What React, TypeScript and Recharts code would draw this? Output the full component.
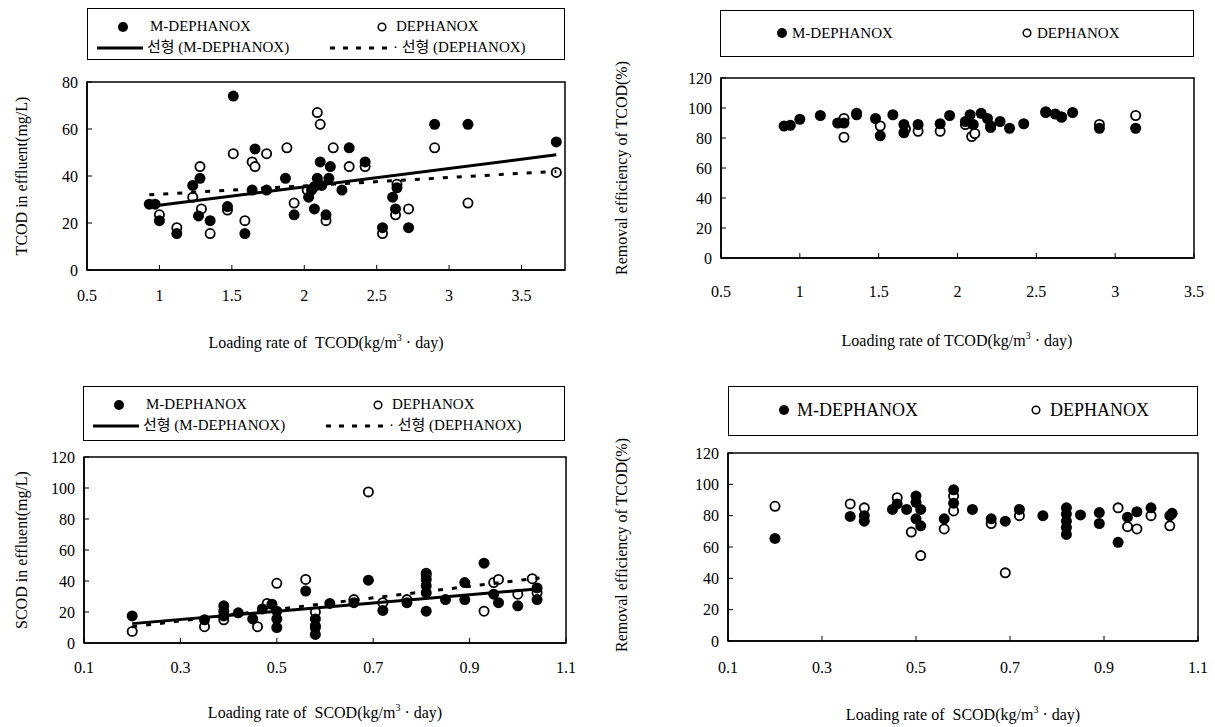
import React from 'react'
import { ScatterChart, Scatter, XAxis, YAxis, ReferenceArea } from 'recharts'

const FONT = '"Liberation Serif", "Noto Sans CJK KR", serif'

type Pt = [number, number]

// top-left: TCOD in effluent vs TCOD loading
const tcodEffM: Pt[] = [
  [0.93, 28], [0.97, 28], [1.0, 21], [1.12, 15.5], [1.23, 36], [1.28, 39], [1.27, 23], [1.35, 21],
  [1.47, 27], [1.51, 74], [1.59, 15.5], [1.66, 51.5], [1.64, 34], [1.74, 34], [1.87, 39], [1.93, 23.5],
  [2.03, 31], [2.07, 26], [2.07, 35.5], [2.09, 39], [2.11, 46], [2.18, 44], [2.17, 39], [2.15, 23.5],
  [2.05, 34], [2.12, 36], [2.26, 34], [2.31, 52], [2.42, 46], [2.54, 18], [2.61, 31], [2.64, 35],
  [2.63, 26], [2.72, 18], [2.9, 62], [3.13, 62], [3.74, 54.5],
]
const tcodEffD: Pt[] = [
  [1.0, 23.5], [1.12, 18], [1.23, 31], [1.28, 44], [1.29, 26], [1.35, 15.5], [1.47, 25.5], [1.51, 49.5],
  [1.59, 21], [1.64, 46], [1.66, 44], [1.74, 49.5], [1.88, 52], [1.93, 28.5], [2.02, 34], [2.09, 67],
  [2.11, 62], [2.15, 21], [2.2, 52], [2.31, 44], [2.42, 44], [2.54, 15.5], [2.63, 23.5], [2.64, 36.5],
  [2.72, 26], [2.9, 52], [3.13, 28.5], [3.74, 41.5],
]
const tcodEffTrendM: Pt[] = [[0.93, 27], [3.74, 49]]
const tcodEffTrendD: Pt[] = [[0.93, 32], [3.74, 42]]

// top-right: TCOD removal vs TCOD loading
const tcodRemM: Pt[] = [
  [0.9, 88], [0.94, 88.5], [1.0, 92.5], [1.13, 95], [1.24, 90], [1.28, 90], [1.36, 95.5], [1.48, 93],
  [1.51, 81.5], [1.59, 95.5], [1.66, 89], [1.66, 83.5], [1.75, 89], [1.89, 89.5], [1.95, 95], [2.05, 91],
  [2.08, 95.5], [2.1, 89], [2.15, 96.5], [2.19, 93], [2.21, 88], [2.27, 91], [2.33, 86.5], [2.42, 89.5],
  [2.56, 97.5], [2.62, 96], [2.66, 94], [2.73, 97], [2.9, 86.5], [3.13, 86.5],
]
const tcodRemD: Pt[] = [
  [1.28, 80.5], [1.28, 93], [1.36, 96.5], [1.51, 88], [1.67, 86], [1.75, 84.5], [1.89, 84.5], [2.09, 81],
  [2.11, 83], [2.21, 87], [2.05, 89], [2.56, 97], [2.66, 94], [2.9, 89], [3.13, 95],
]

// bottom-left: SCOD in effluent vs SCOD loading
const scodEffM: Pt[] = [
  [0.2, 17.5], [0.35, 15], [0.39, 24], [0.39, 20.5], [0.39, 17.5], [0.42, 19.5], [0.45, 15.5], [0.49, 25],
  [0.5, 20.5], [0.5, 15.5], [0.5, 10], [0.47, 22], [0.56, 33.5], [0.58, 15.5], [0.58, 11], [0.58, 5.5],
  [0.61, 25.5], [0.66, 26], [0.69, 40.5], [0.72, 21], [0.77, 26], [0.81, 44], [0.81, 41], [0.81, 37],
  [0.81, 32.5], [0.81, 20.5], [0.85, 28], [0.89, 39], [0.89, 28], [0.93, 51.5], [0.95, 31.5], [0.96, 26],
  [1.0, 24], [1.04, 35.5], [1.04, 28],
]
const scodEffD: Pt[] = [
  [0.2, 7.5], [0.35, 10.5], [0.39, 15], [0.46, 10.5], [0.48, 25.5], [0.5, 38.5], [0.56, 41], [0.58, 20],
  [0.58, 10], [0.66, 28], [0.69, 97.5], [0.72, 26], [0.77, 28], [0.81, 45], [0.93, 20.5], [0.95, 39],
  [0.96, 41], [1.0, 31.5], [1.03, 41.5], [1.04, 32.5],
]
const scodEffTrendM: Pt[] = [[0.2, 12.5], [1.045, 35]]
const scodEffTrendD: Pt[] = [[0.2, 10.5], [1.045, 42]]

// bottom-right: TCOD removal vs SCOD loading
const scodRemM: Pt[] = [
  [0.2, 65.5], [0.36, 79.5], [0.39, 80], [0.39, 76.5], [0.45, 84], [0.46, 87.5], [0.48, 84], [0.5, 92.5],
  [0.5, 88.5], [0.5, 78], [0.51, 73.5], [0.51, 84], [0.56, 78], [0.58, 96.5], [0.58, 88], [0.62, 84],
  [0.66, 78], [0.69, 76.5], [0.72, 84], [0.77, 80], [0.82, 85], [0.82, 81], [0.82, 76.5], [0.82, 72.5],
  [0.82, 68], [0.85, 80.5], [0.89, 82], [0.89, 75], [0.93, 63], [0.95, 79], [0.97, 82.5], [1.0, 85],
  [1.04, 80], [1.045, 81.5],
]
const scodRemD: Pt[] = [
  [0.2, 86], [0.36, 87.5], [0.39, 85], [0.46, 91.5], [0.49, 69.5], [0.51, 54.5], [0.56, 71.5], [0.58, 92.5],
  [0.58, 83], [0.66, 75], [0.69, 43.5], [0.72, 80], [0.93, 85], [0.95, 73], [0.97, 71.5], [1.0, 80],
  [1.04, 73.5],
]

const tcodTicks = [0.5, 1, 1.5, 2, 2.5, 3, 3.5]
const scodTicks = [0.1, 0.3, 0.5, 0.7, 0.9, 1.1]
const effTicks80 = [0, 20, 40, 60, 80]
const ticks120 = [0, 20, 40, 60, 80, 100, 120]

const toObj = (arr: Pt[]) => arr.map(([x, y]) => ({ x, y }))

const Filled = (p: any) => <circle cx={p.cx} cy={p.cy} r={5.5} fill="#000" />
const Open = (p: any) => <circle cx={p.cx} cy={p.cy} r={4.6} fill="#fff" stroke="#000" strokeWidth={1.8} />
const NoDot = () => <g />

interface PanelProps {
  ox: number
  rect: { l: number; t: number; r: number; b: number }
  xDomain: [number, number]
  xTicks: number[]
  yDomain: [number, number]
  yTicks: number[]
  xGap: number
  filled: Pt[]
  open: Pt[]
  trendM?: Pt[]
  trendD?: Pt[]
}

function Panel({ ox, rect, xDomain, xTicks, yDomain, yTicks, xGap, filled, open, trendM, trendD }: PanelProps) {
  const pad = 10
  const axisH = 50
  const tick = { fontFamily: FONT, fontSize: 16, fill: '#000' }
  return (
    <div style={{ position: 'absolute', left: ox, top: rect.t - pad }}>
      <ScatterChart
        width={rect.r - ox + pad}
        height={rect.b - rect.t + pad + axisH}
        margin={{ top: pad, right: pad, bottom: 0, left: 0 }}
      >
        <XAxis
          type="number"
          dataKey="x"
          domain={xDomain}
          ticks={xTicks}
          allowDataOverflow
          height={axisH}
          tick={tick}
          tickSize={-5}
          tickMargin={xGap}
          axisLine={{ stroke: '#000', strokeWidth: 1.5 }}
          tickLine={{ stroke: '#000' }}
        />
        <YAxis
          type="number"
          dataKey="y"
          domain={yDomain}
          ticks={yTicks}
          allowDataOverflow
          width={rect.l - ox}
          tick={tick}
          tickSize={-5}
          tickMargin={14}
          axisLine={{ stroke: '#000', strokeWidth: 1.5 }}
          tickLine={{ stroke: '#000' }}
        />
        <ReferenceArea
          x1={xDomain[0]}
          x2={xDomain[1]}
          y1={yDomain[0]}
          y2={yDomain[1]}
          fill="none"
          stroke="#000"
          strokeWidth={1.5}
          ifOverflow="visible"
        />
        <Scatter data={toObj(open)} shape={Open} isAnimationActive={false} />
        <Scatter data={toObj(filled)} shape={Filled} isAnimationActive={false} />
        {trendM && (
          <Scatter
            data={toObj(trendM)}
            shape={NoDot}
            line={{ stroke: '#000', strokeWidth: 3 }}
            isAnimationActive={false}
          />
        )}
        {trendD && (
          <Scatter
            data={toObj(trendD)}
            shape={NoDot}
            line={{ stroke: '#000', strokeWidth: 3, strokeDasharray: '5 9' }}
            isAnimationActive={false}
          />
        )}
      </ScatterChart>
    </div>
  )
}

const abs = (left: number, top: number, extra: React.CSSProperties = {}): React.CSSProperties => ({
  position: 'absolute',
  left,
  top,
  whiteSpace: 'nowrap',
  lineHeight: 1,
  ...extra,
})

function Dot({ left, top, open }: { left: number; top: number; open?: boolean }) {
  return (
    <svg style={abs(left - 7, top - 7)} width={14} height={14}>
      {open ? (
        <circle cx={7} cy={7} r={3.8} fill="#fff" stroke="#000" strokeWidth={1.5} />
      ) : (
        <circle cx={7} cy={7} r={5} fill="#000" />
      )}
    </svg>
  )
}

function LineSample({ left, top, width, dashed }: { left: number; top: number; width: number; dashed?: boolean }) {
  return (
    <svg style={abs(left, top - 3)} width={width} height={6}>
      <line x1={0} y1={3} x2={width} y2={3} stroke="#000" strokeWidth={3} strokeDasharray={dashed ? '5 8' : undefined} />
    </svg>
  )
}

function YTitle({ x, y, text }: { x: number; y: number; text: string }) {
  return (
    <div style={abs(x, y, { fontSize: 16, transform: 'translate(-50%, -50%) rotate(-90deg)' })}>{text}</div>
  )
}

function XTitle({ x, y, name }: { x: number; y: number; name: string }) {
  return (
    <div style={abs(x, y, { fontSize: 16, transform: 'translate(-50%, -50%)' })}>
      Loading rate of {name}(kg/m<sup style={{ fontSize: 10 }}>3</sup> · day)
    </div>
  )
}

function TwoRowLegend({ left, top, width, height }: { left: number; top: number; width: number; height: number }) {
  const r1 = top + 19
  const r2 = top + 40
  return (
    <>
      <div style={abs(left, top, { width, height, border: '1px solid #000', boxSizing: 'border-box' })} />
      <Dot left={left + 36} top={r1} />
      <div style={abs(left + 63, r1 - 8, { fontSize: 15 })}>M-DEPHANOX</div>
      <Dot left={left + 295} top={r1} open />
      <div style={abs(left + 309, r1 - 8, { fontSize: 15 })}>DEPHANOX</div>
      <LineSample left={left + 10} top={r2} width={46} />
      <div style={abs(left + 60, r2 - 8, { fontSize: 15 })}>선형 (M-DEPHANOX)</div>
      <LineSample left={left + 243} top={r2} width={60} dashed />
      <div style={abs(left + 306, r2 - 8, { fontSize: 15 })}>· 선형 (DEPHANOX)</div>
    </>
  )
}

export default function App() {
  return (
    <div style={{ position: 'absolute', left: 0, top: 0, width: 1215, height: 727, background: '#fff', fontFamily: FONT, color: '#000' }}>
      <TwoRowLegend left={87} top={8} width={478} height={52} />
      <Panel
        ox={0}
        rect={{ l: 87, t: 82, r: 565, b: 270 }}
        xDomain={[0.5, 3.8]}
        xTicks={tcodTicks}
        yDomain={[0, 80]}
        yTicks={effTicks80}
        xGap={25}
        filled={tcodEffM}
        open={tcodEffD}
        trendM={tcodEffTrendM}
        trendD={tcodEffTrendD}
      />
      <YTitle x={22} y={176} text="TCOD in effluent(mg/L)" />
      <XTitle x={326} y={342} name={'\u00a0TCOD'} />

      <div style={abs(720, 10, { width: 474, height: 47, border: '1px solid #000', boxSizing: 'border-box' })} />
      <Dot left={782} top={33} />
      <div style={abs(792, 26, { fontSize: 15 })}>M-DEPHANOX</div>
      <Dot left={1027} top={33} open />
      <div style={abs(1037, 26, { fontSize: 15 })}>DEPHANOX</div>
      <Panel
        ox={640}
        rect={{ l: 721, t: 78, r: 1194, b: 258 }}
        xDomain={[0.5, 3.5]}
        xTicks={tcodTicks}
        yDomain={[0, 120]}
        yTicks={ticks120}
        xGap={33}
        filled={tcodRemM}
        open={tcodRemD}
      />
      <YTitle x={622} y={168} text="Removal efficiency of TCOD(%)" />
      <XTitle x={957} y={340} name="TCOD" />

      <TwoRowLegend left={83} top={386} width={482} height={55} />
      <Panel
        ox={0}
        rect={{ l: 84, t: 457, r: 566, b: 643 }}
        xDomain={[0.1, 1.1]}
        xTicks={scodTicks}
        yDomain={[0, 120]}
        yTicks={ticks120}
        xGap={24}
        filled={scodEffM}
        open={scodEffD}
        trendM={scodEffTrendM}
        trendD={scodEffTrendD}
      />
      <YTitle x={22} y={550} text="SCOD in effluent(mg/L)" />
      <XTitle x={325} y={712} name={'\u00a0SCOD'} />

      <div style={abs(728, 386, { width: 470, height: 50, border: '1px solid #000', boxSizing: 'border-box' })} />
      <Dot left={784} top={410} />
      <div style={abs(797, 401, { fontSize: 18 })}>M-DEPHANOX</div>
      <Dot left={1036} top={410} open />
      <div style={abs(1050, 401, { fontSize: 18 })}>DEPHANOX</div>
      <Panel
        ox={640}
        rect={{ l: 728, t: 453, r: 1198, b: 641 }}
        xDomain={[0.1, 1.1]}
        xTicks={scodTicks}
        yDomain={[0, 120]}
        yTicks={ticks120}
        xGap={26}
        filled={scodRemM}
        open={scodRemD}
      />
      <YTitle x={622} y={545} text="Removal efficiency of TCOD(%)" />
      <XTitle x={963} y={714} name={'\u00a0SCOD'} />
    </div>
  )
}
